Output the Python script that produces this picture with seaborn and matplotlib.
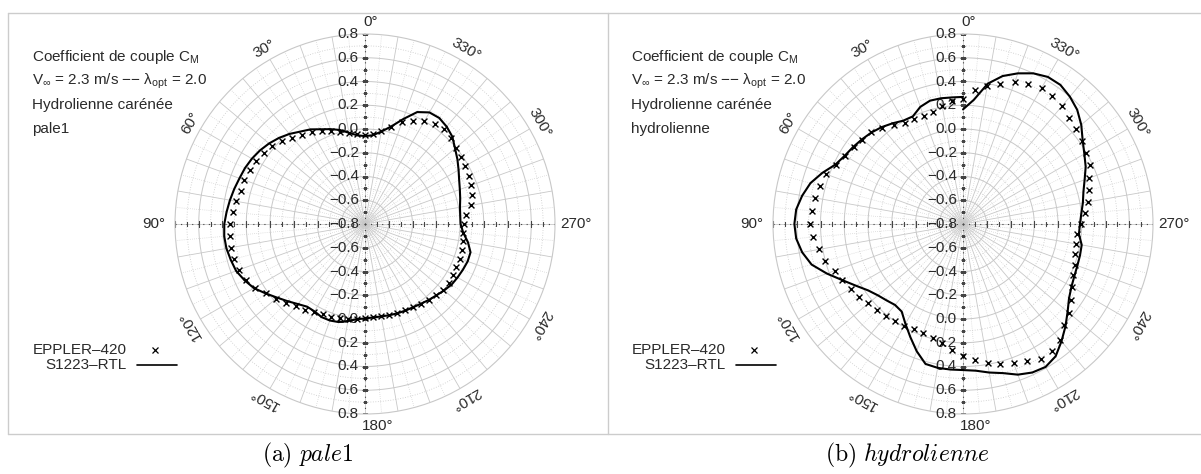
import numpy as np
import matplotlib
matplotlib.use("Agg")
import matplotlib.pyplot as plt
import matplotlib.transforms as mtransforms
from matplotlib.lines import Line2D
import seaborn as sns

# torque coefficient C_M vs azimuth (deg)
# (a) pale1
pale1_line_deg = list(range(0, 365, 5))
pale1_line_cm = [-0.06, -0.05, -0.02, 0.02, 0.05, 0.08, 0.12, 0.15, 0.19, 0.225,
                 0.255, 0.28, 0.30, 0.315, 0.325, 0.34, 0.355, 0.37, 0.385, 0.39,
                 0.385, 0.37, 0.355, 0.32, 0.28, 0.22, 0.165, 0.12, 0.08, 0.05,
                 0.05, 0.065, 0.065, 0.055, 0.03, 0.005, -0.005, -0.01, -0.01, -0.005,
                 0.0, 0.005, 0.01, 0.02, 0.035, 0.05, 0.07, 0.09, 0.10, 0.11,
                 0.12, 0.12, 0.08, 0.03, 0.005, 0.005, 0.012, 0.03, 0.05, 0.075,
                 0.11, 0.15, 0.19, 0.24, 0.27, 0.29, 0.285, 0.24, 0.14, 0.05,
                 -0.01, -0.05, -0.06]
pale1_mark_deg = list(range(0, 360, 5))
pale1_mark_cm = [-0.05, -0.04, -0.02, 0.0, 0.03, 0.06, 0.09, 0.12, 0.15, 0.19,
                 0.22, 0.24, 0.26, 0.27, 0.28, 0.285, 0.30, 0.32, 0.334, 0.34,
                 0.345, 0.34, 0.33, 0.31, 0.27, 0.22, 0.18, 0.14, 0.10, 0.08,
                 0.06, 0.04, 0.03, 0.02, 0.01, 0.0, -0.01, -0.015, -0.015, -0.01,
                 -0.005, 0.0, 0.01, 0.02, 0.035, 0.05, 0.06, 0.06, 0.055, 0.05,
                 0.05, 0.045, 0.04, 0.03, 0.03, 0.05, 0.11, 0.135, 0.15, 0.163,
                 0.175, 0.185, 0.20, 0.22, 0.24, 0.23, 0.20, 0.16, 0.11, 0.05,
                 -0.005, -0.04]

# (b) hydrolienne
hydro_line_deg = list(range(0, 365, 5))
hydro_line_cm = [0.27, 0.27, 0.275, 0.275, 0.25, 0.20, 0.205, 0.235, 0.265, 0.29,
                 0.31, 0.33, 0.35, 0.385, 0.46, 0.53, 0.575, 0.61, 0.62, 0.61,
                 0.575, 0.52, 0.42, 0.32, 0.24, 0.175, 0.135, 0.11, 0.09, 0.10,
                 0.17, 0.25, 0.34, 0.42, 0.43, 0.43, 0.43, 0.44, 0.47, 0.50,
                 0.55, 0.58, 0.59, 0.56, 0.49, 0.42, 0.35, 0.29, 0.255, 0.235,
                 0.225, 0.22, 0.215, 0.18, 0.185, 0.20, 0.225, 0.25, 0.29, 0.34,
                 0.38, 0.43, 0.50, 0.56, 0.60, 0.63, 0.63, 0.60, 0.55, 0.49,
                 0.40, 0.25, 0.165]
hydro_mark_deg = list(range(0, 360, 5))
hydro_mark_cm = [0.25, 0.24, 0.21, 0.18, 0.168, 0.175, 0.185, 0.22, 0.26, 0.295,
                 0.305, 0.325, 0.35, 0.38, 0.425, 0.45, 0.468, 0.48, 0.49, 0.47,
                 0.435, 0.40, 0.35, 0.32, 0.29, 0.265, 0.24, 0.225, 0.21, 0.20,
                 0.187, 0.178, 0.178, 0.19, 0.22, 0.265, 0.31, 0.35, 0.39, 0.42,
                 0.45, 0.475, 0.515, 0.505, 0.47, 0.40, 0.37, 0.31, 0.26, 0.22,
                 0.20, 0.175, 0.165, 0.163, 0.195, 0.23, 0.27, 0.30, 0.33, 0.38,
                 0.398, 0.42, 0.445, 0.465, 0.50, 0.513, 0.525, 0.505, 0.47, 0.42,
                 0.38, 0.33]

r_ticks = [0.8, 0.6, 0.4, 0.2, 0.0, -0.2, -0.4, -0.6, -0.8]
angle_labels = [0, 30, 60, 90, 120, 150, 180, 210, 240, 270, 300, 330]
header_lines = [
    ["Coefficient de couple C$_\\mathregular{M}$",
     "V$_\\mathregular{\\infty}$ = 2.3 m/s \u2212\u2212 \u03bb$_\\mathregular{opt}$ = 2.0",
     "Hydrolienne carénée", "pale1"],
    ["Coefficient de couple C$_\\mathregular{M}$",
     "V$_\\mathregular{\\infty}$ = 2.3 m/s \u2212\u2212 \u03bb$_\\mathregular{opt}$ = 2.0",
     "Hydrolienne carénée", "hydrolienne"],
]
captions = ["$\\mathrm{(a)}\\ \\mathit{pale1}$", "$\\mathrm{(b)}\\ \\mathit{hydrolienne}$"]
series_names = ["EPPLER\u2013420", "S1223\u2013RTL"]

sns.set_theme(style="white")
plt.rcParams['font.family'] = ['Liberation Sans', 'DejaVu Sans']
plt.rcParams['mathtext.fontset'] = 'custom'
plt.rcParams['mathtext.rm'] = 'Liberation Sans'
plt.rcParams['mathtext.it'] = 'Liberation Sans:italic'

W, H = 1201, 474
fig = plt.figure(figsize=(W / 100, H / 100), dpi=100)
fig.patch.set_facecolor("white")

GRID = "#c8c8c8"
FS = 11
TXT = "#2a2a2a"


def fx(px):
    return px / W


def fy(py):
    return 1 - py / H


def draw_panel(cx, data_line, data_mark, header, caption, left):
    R = 190
    ax = fig.add_axes([fx(cx - R), fy(224 + R), 2 * R / W, 2 * R / H], projection="polar")
    ax.set_theta_zero_location("N")
    ax.set_theta_direction(1)
    ax.set_ylim(-0.8, 0.8)
    ax.grid(False)
    ax.set_xticks([])
    ax.set_yticks([])
    ax.spines["polar"].set_color(GRID)
    ax.spines["polar"].set_linewidth(0.8)
    ax.set_facecolor("none")

    full = np.linspace(0, 2 * np.pi, 721)
    for v in [-0.6, -0.4, -0.2, 0.0, 0.2, 0.4, 0.6]:
        ax.plot(full, np.full_like(full, v), color=GRID, lw=0.7, zorder=0)
    for v in [-0.7, -0.5, -0.3, -0.1, 0.1, 0.3, 0.5, 0.7]:
        ax.plot(full, np.full_like(full, v), color=GRID, lw=0.6, ls=(0, (1, 2)), zorder=0)
    for d in range(0, 360, 10):
        ax.plot([np.radians(d)] * 2, [-0.8, 0.8], color=GRID, lw=0.6, zorder=0)
    for d in range(5, 360, 10):
        ax.plot([np.radians(d)] * 2, [-0.8, 0.8], color=GRID, lw=0.5, ls=(0, (1, 2)), zorder=0)

    # dotted axes with ticks
    for t in [0, np.pi / 2, np.pi, 3 * np.pi / 2]:
        ax.plot([t, t], [-0.8, 0.8], color="#444444", lw=0.8, ls=(0, (1, 4)), zorder=1)
    minor = [-0.7, -0.5, -0.3, -0.1, 0.1, 0.3, 0.5, 0.7]
    major = [-0.6, -0.4, -0.2, 0.0, 0.2, 0.4, 0.6, 0.8]
    for t, mk in [(0, "_"), (np.pi, "_"), (np.pi / 2, "|"), (3 * np.pi / 2, "|")]:
        ax.plot([t] * len(major), major, ls="none", marker=mk, ms=5, mew=0.8, color="#444444", zorder=1)
        ax.plot([t] * len(minor), minor, ls="none", marker=mk, ms=2.5, mew=0.8, color="#444444", zorder=1)

    # radial labels along the vertical axis
    lab_tr = mtransforms.offset_copy(ax.transData, fig=fig, x=-6, y=0, units="dots")
    for v in r_ticks:
        ax.text(0, v, f"{v:.1f}".replace("-", "\u2212"), transform=lab_tr, ha="right", va="center",
                fontsize=FS, color=TXT, zorder=3)
    for v in r_ticks[:-1]:
        ax.text(np.pi, v, f"{v:.1f}".replace("-", "\u2212"), transform=lab_tr, ha="right", va="center",
                fontsize=FS, color=TXT, zorder=3)

    # angle labels
    for a in angle_labels:
        t = np.radians(a)
        if a == 0:
            ax.text(t, 0.905, "0°", transform=mtransforms.offset_copy(ax.transData, fig=fig, x=6, y=0, units="dots"),
                    ha="center", va="center", fontsize=FS, color=TXT)
        elif a == 180:
            ax.text(t, 0.905, "180°", transform=mtransforms.offset_copy(ax.transData, fig=fig, x=13, y=0, units="dots"),
                    ha="center", va="center", fontsize=FS, color=TXT)
        elif a in (90, 270):
            ax.text(t, 0.98, f"{a}°", ha="center", va="center", fontsize=FS, color=TXT)
        else:
            ax.text(t, 0.9, f"{a}°", ha="center", va="center", fontsize=FS, rotation=a,
                    rotation_mode="anchor", color=TXT)

    sns.lineplot(x=np.radians(data_line[0]), y=data_line[1], ax=ax, sort=False, estimator=None,
                 color="black", lw=1.5, zorder=5)
    sns.scatterplot(x=np.radians(data_mark[0]), y=data_mark[1], ax=ax, marker="x", s=18,
                    color="black", linewidth=1.0, zorder=6)

    # header text
    for i, s in enumerate(header):
        fig.text(fx(left + 24), fy(57 + i * 24), s, ha="left", va="center", fontsize=FS, color=TXT)

    # legend
    lx = left + 119
    fig.text(fx(lx), fy(350), series_names[0], ha="right", va="center", fontsize=FS, color=TXT)
    fig.text(fx(lx), fy(365), series_names[1], ha="right", va="center", fontsize=FS, color=TXT)
    fig.add_artist(Line2D([fx(lx + 28)], [fy(350)], marker="x", ms=4, mew=0.9, color="black", ls="none"))
    fig.add_artist(Line2D([fx(lx + 10), fx(lx + 50)], [fy(365), fy(365)], color="black", lw=1.2))

    # caption
    fig.text(fx(left + 300), fy(455), caption, ha="center", va="center", fontsize=17,
             math_fontfamily="cm", color="black")


draw_panel(365, (pale1_line_deg, pale1_line_cm), (pale1_mark_deg, pale1_mark_cm),
           header_lines[0], captions[0], 8)
draw_panel(963, (hydro_line_deg, hydro_line_cm), (hydro_mark_deg, hydro_mark_cm),
           header_lines[1], captions[1], 607)

# table frame around the two sub-figures
frame_kw = dict(color="#cccccc", lw=1.0)
fig.add_artist(Line2D([fx(8), 1.0], [fy(13), fy(13)], **frame_kw))
fig.add_artist(Line2D([fx(8), 1.0], [fy(434), fy(434)], **frame_kw))
fig.add_artist(Line2D([fx(8), fx(8)], [fy(13), fy(434)], **frame_kw))
fig.add_artist(Line2D([fx(608), fx(608)], [fy(13), fy(434)], **frame_kw))

fig.savefig("out.png", dpi=100, facecolor="white")
